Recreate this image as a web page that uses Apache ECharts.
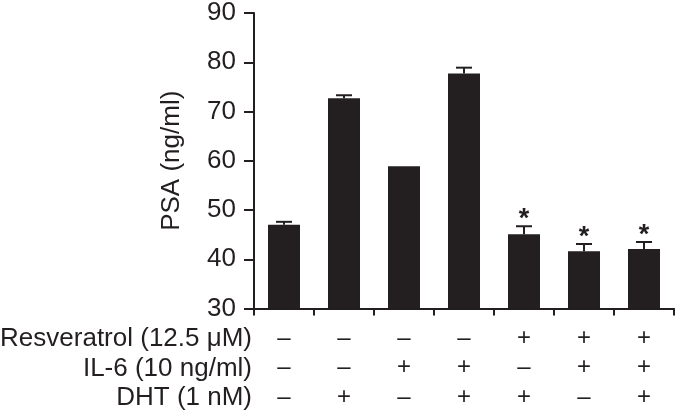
<!DOCTYPE html>
<html><head><meta charset="utf-8">
<script src="https://cdn.jsdelivr.net/npm/echarts@6/dist/echarts.min.js"></script>
<style>html,body{margin:0;padding:0;background:#fff}#c{width:675px;height:412px}</style>
</head><body><div id="c"></div>
<script>
const categories = ['G1','G2','G3','G4','G5','G6','G7'];
const psaMean = [47.0, 72.7, 58.9, 77.7, 45.1, 41.6, 42.1];
const psaErrTop = [47.6, 73.3, null, 78.9, 46.7, 43.1, 43.5];
const significant = [false, false, false, false, true, true, true];
const resveratrol = ['–','–','–','–','+','+','+'];
const il6 = ['–','–','+','+','–','+','+'];
const dht = ['–','+','–','+','+','–','+'];
const rowLabels = ['Resveratrol (12.5 μM)', 'IL-6 (10 ng/ml)', 'DHT (1 nM)'];
const yTicks = {min: 30, max: 90, interval: 10};

const ink = '#231f20';
const font = 'Liberation Sans, Arial, sans-serif';
const chart = echarts.init(document.getElementById('c'));

const errData = categories.map((c, i) => [i, psaMean[i], psaErrTop[i], significant[i] ? 1 : 0]);

chart.setOption({
  animation: false,
  grid: {left: 254, right: 1, top: 10, bottom: 102, containLabel: false},
  xAxis: {
    type: 'category', data: categories,
    axisLine: {lineStyle: {color: ink, width: 2}},
    axisTick: {show: true, interval: 0, length: 7, lineStyle: {color: ink, width: 2}},
    axisLabel: {
      interval: 0, margin: 15, color: ink, fontFamily: font, fontSize: 24, lineHeight: 29.5,
      formatter: (v, i) => resveratrol[i] + '\n' + il6[i] + '\n' + dht[i]
    }
  },
  yAxis: {
    type: 'value', min: yTicks.min, max: yTicks.max, interval: yTicks.interval,
    name: 'PSA (ng/ml)', nameLocation: 'middle', nameRotate: 90, nameGap: 69,
    nameTextStyle: {color: ink, fontFamily: font, fontSize: 26},
    splitLine: {show: false},
    axisLine: {show: true, lineStyle: {color: ink, width: 2}},
    axisTick: {show: true, length: 10, lineStyle: {color: ink, width: 2}},
    axisLabel: {color: ink, fontFamily: font, fontSize: 26, margin: 18}
  },
  series: [
    {
      type: 'bar', data: psaMean, barWidth: 32,
      itemStyle: {color: ink}
    },
    {
      type: 'custom', data: errData, z: 3,
      renderItem: (params, api) => {
        const x = api.value(0), m = api.value(1), t = api.value(2), s = api.value(3);
        const children = [];
        const pm = api.coord([x, m]);
        let topY = pm[1];
        if (t !== null && !isNaN(t)) {
          const pt = api.coord([x, t]);
          topY = pt[1];
          children.push({type: 'line', shape: {x1: pm[0], y1: pm[1], x2: pt[0], y2: pt[1]}, style: {stroke: ink, lineWidth: 2}});
          children.push({type: 'line', shape: {x1: pt[0] - 8, y1: pt[1], x2: pt[0] + 8, y2: pt[1]}, style: {stroke: ink, lineWidth: 2}});
        }
        if (s) {
          children.push({type: 'text', style: {text: '*', x: pm[0], y: topY + 7, align: 'center', verticalAlign: 'bottom', fill: ink, font: 'bold 27px ' + font}});
        }
        return {type: 'group', children};
      }
    }
  ],
  graphic: rowLabels.map((t, i) => ({
    type: 'text', right: 675 - 252, top: 326 + i * 29.5,
    style: {text: t, fill: ink, font: '26px ' + font, align: 'right'}
  }))
});
</script>
</body></html>
